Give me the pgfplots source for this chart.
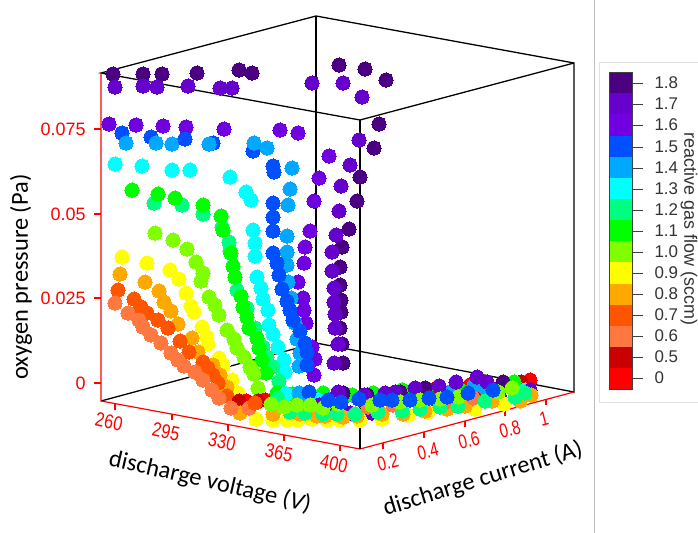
\documentclass[border=0pt]{standalone}
\usepackage{pgfplots}
\pgfplotsset{compat=1.18}
\usepackage{fontspec}
\setmainfont{Liberation Sans}
\newfontfamily\arialfont{Liberation Sans}
\newfontfamily\calfont{Carlito}
\definecolor{c00}{HTML}{FF0000}
\definecolor{c05}{HTML}{C80000}
\definecolor{c06}{HTML}{FF7840}
\definecolor{c07}{HTML}{FF5500}
\definecolor{c08}{HTML}{FFA800}
\definecolor{c09}{HTML}{FFFF00}
\definecolor{c10}{HTML}{80FF00}
\definecolor{c11}{HTML}{00FF00}
\definecolor{c12}{HTML}{00FF80}
\definecolor{c13}{HTML}{00FFFF}
\definecolor{c14}{HTML}{00A8FF}
\definecolor{c15}{HTML}{0050FF}
\definecolor{c16}{HTML}{7000E0}
\definecolor{c17}{HTML}{6600CC}
\definecolor{c18}{HTML}{4B0082}
\pgfplotsset{dot/.style={only marks,mark=*,mark size=7.1pt,color=#1,mark options={draw=none,fill=#1,line width=0pt,solid}},
 fr/.style={black,line width=1.3pt},
 rd/.style={red,line width=1.2pt},
 cell/.style={fill=#1,draw=none}}
\newcommand{\ztl}[2]{\node[anchor=east,text=red,font=\arialfont\fontsize{18}{20}\selectfont] at (axis cs:89,#1) {#2};}
\newcommand{\xtl}[3]{\node[text=red,rotate=-12,xscale=.82,font=\arialfont\fontsize{20}{22}\selectfont] at (axis cs:#1,#2) {#3};}
\newcommand{\ytl}[3]{\node[text=red,rotate=14,xscale=.76,font=\arialfont\fontsize{20}{22}\selectfont] at (axis cs:#1,#2) {#3};}
\newcommand{\cbl}[2]{\node[anchor=west,text=black!80,font=\arialfont\fontsize{17}{20}\selectfont] at (axis cs:651,#1) {#2};}
\begin{document}
\begin{tikzpicture}
\useasboundingbox (0,0) rectangle (698bp,533bp);
\begin{axis}[at={(0,0)},anchor=south west,scale only axis,width=698bp,height=533bp,hide axis,
 xmin=0,xmax=698,ymin=0,ymax=533,y dir=reverse,clip=false]
% frame
\addplot[black!25,line width=.8pt] coordinates {(594,0) (594,533)};
\addplot[black!12,line width=.8pt] coordinates {(698,62) (599,62) (599,402) (698,402)};
\addplot[fr] coordinates {(101,401) (316,343) (574,392) (574,63) (316,16) (101,73) (360,120) (574,63)};
\addplot[fr] coordinates {(316,16) (316,343)};
\addplot[fr] coordinates {(360,120) (360,449)};
\addplot[rd] coordinates {(101,73) (101,401) (360,449) (574,392)};
% z ticks
\addplot[rd] coordinates {(94,129) (101,129)};
\addplot[rd] coordinates {(94,214) (101,214)};
\addplot[rd] coordinates {(94,298) (101,298)};
\addplot[rd] coordinates {(94,383) (101,383)};
% x ticks
\addplot[rd] coordinates {(115,404) (115,410)};
\addplot[rd] coordinates {(172,414) (172,420)};
\addplot[rd] coordinates {(228,425) (228,431)};
\addplot[rd] coordinates {(284,435) (284,441)};
\addplot[rd] coordinates {(340,445) (340,451)};
% y ticks
\addplot[rd] coordinates {(383,443) (383,449)};
\addplot[rd] coordinates {(424,432) (424,438)};
\addplot[rd] coordinates {(465,421) (465,427)};
\addplot[rd] coordinates {(505,410) (505,416)};
\addplot[rd] coordinates {(546,399) (546,405)};
% upper curves
\addplot[dot=c18] coordinates {(113,74)(143,74)(162,74)(197,73)(239,70)(252,73)(339,65)(365,69)(386,80)(379,124)(374,148)(360,177)(357,201)(349,229)(342,247)(340,267)(340,285)(341,300)(341,312)(340,328)(342,344)(343,363)};
\addplot[dot=c17] coordinates {(115,87)(143,86)(157,87)(188,86)(220,88)(232,88)(312,83)(343,83)(362,97)(359,140)(350,165)(341,186)(339,211)(336,235)(332,252)(332,271)(334,288)(334,302)(335,314)(335,328)(338,344)(334,363)};
\addplot[dot=c16] coordinates {(109,124)(136,125)(163,126)(186,127)(224,129)(280,130)(298,133)(329,156)(319,178)(314,201)(310,231)(305,247)(304,263)(298,282)(303,298)(304,310)(306,323)(312,347)(315,359)(314,375)};
\addplot[dot=c15] coordinates {(122,133)(151,137)(185,139)(213,143)(253,151)};
\addplot[dot=c14] coordinates {(126,143)(156,143)(172,144)(209,144)(254,143)(267,148)(292,168)(290,189)(288,205)(287,236)(287,252)(287,265)(288,282)(291,298)(295,323)(297,339)(300,353)(299,366)};
\addplot[dot=c15] coordinates {(185,139)(273,166)(274,172)(273,203)(273,217)(273,231)(273,253)(277,263)(279,275)(282,289)(287,301)(290,310)(293,320)(300,331)(305,343)(307,352)(307,365)};
\addplot[dot=c13] coordinates {(115,164)(142,166)(172,170)(190,170)(230,177)(246,192)(251,200)(253,230)(255,243)(255,256)(257,277)(261,288)(263,299)(268,310)(269,325)(273,334)(278,347)(284,360)(285,372)};
\addplot[dot=c12] coordinates {(154,203)(182,205)(203,214)(222,227)(229,242)(230,251)(237,290)(247,308)(255,328)(263,347)(267,357)(273,367)(279,381)};
\addplot[dot=c11] coordinates {(132,190)(158,194)(175,198)(203,205)(221,216)(223,230)(231,253)(233,266)(235,277)(241,296)(243,307)(247,317)(249,328)(257,338)(259,348)(262,360)(266,373)};
\addplot[dot=c10] coordinates {(155,233)(173,240)(187,249)(196,262)(203,273)(201,281)(209,297)(215,305)(219,315)(227,330)(234,339)(237,348)(244,357)(250,367)(254,374)(258,388)};
\addplot[dot=c09] coordinates {(122,257)(147,263)(170,270)(179,279)(186,293)(191,306)(194,312)(202,327)(207,337)(208,344)(219,358)(223,365)(232,380)(238,393)};
\addplot[dot=c08] coordinates {(120,274)(145,282)(159,291)(164,302)(171,311)(178,324)(192,338)(198,352)(213,365)(220,375)(227,387)};
\addplot[dot=c07] coordinates {(118,290)(134,299)(141,307)(147,313)(158,320)(168,328)(180,341)(189,352)(203,362)(208,368)(213,375)(218,383)(227,396)};
\addplot[dot=c06] coordinates {(115,303)(128,313)(139,320)(143,327)(151,335)(161,343)(171,353)(178,360)(184,366)(195,372)(203,380)(212,390)(219,398)};
% bottom band, back to front
\addplot[dot=c00] coordinates {(246,401)(265,400)(432,390)(405,392)(530,380)(470,385)};
\addplot[dot=c05] coordinates {(239,401)(258,401)(521,382)(480,388)};
\addplot[dot=c11] coordinates {(277,393)(292,394)(323,393)(352,395)(373,393)(402,390)(425,390)(460,390)(514,382)};
\addplot[dot=c13] coordinates {(286,394)(318,400)(490,392)(525,390)};
\addplot[dot=c14] coordinates {(299,393)(303,402)(474,385)(485,388)(450,392)};
\addplot[dot=c15] coordinates {(309,392)};
\addplot[dot=c18] coordinates {(343,393)(367,395)(503,382)(400,392)(425,388)};
\addplot[dot=c17] coordinates {(338,392)(364,395)(385,393)(395,392)(415,388)(439,386)(456,382)(477,377)(487,382)};
\addplot[dot=c17] coordinates {(319,405)(334,410)(350,413)(372,413)(427,407)(500,398)(530,390)};
\addplot[dot=c09] coordinates {(256,419)(273,420)(287,420)(298,420)(312,419)(327,420)(340,420)(360,420)(382,419)(408,415)(428,412)(475,409)(504,404)};
\addplot[dot=c08] coordinates {(240,413)(273,414)(300,414)(317,416)(325,416)(343,417)(357,416)(382,414)(403,414)(425,411)(447,409)(465,406)(492,401)(520,401)(531,395)};
\addplot[dot=c06] coordinates {(231,408)(249,408)(368,407)(393,405)(473,398)(445,402)};
\addplot[dot=c07] coordinates {(255,403)};
\addplot[dot=c12] coordinates {(278,398)(290,412)(305,413)(323,414)(337,414)(355,414)(378,412)(402,411)(420,409)(440,407)(458,406)(485,401)(515,397)(525,393)};
\addplot[dot=c10] coordinates {(271,404)(284,407)(297,405)(310,405)(323,408)(338,404)(372,405)(400,402)(420,400)(440,399)(458,397)(498,392)(512,388)};
\addplot[dot=c15] coordinates {(328,400)(341,402)(380,400)(392,400)(410,400)(429,398)(447,397)(468,393)(493,390)};
\addplot[dot=c15] coordinates {(359,399)};
\addplot[fr] coordinates {(360,385) (360,449)};
% colour bar
\addplot[cell=c00] coordinates {(609,368)(632,368)(632,389)(609,389)} --cycle;
\addplot[cell=c05] coordinates {(609,347)(632,347)(632,368)(609,368)} --cycle;
\addplot[cell=c06] coordinates {(609,326)(632,326)(632,347)(609,347)} --cycle;
\addplot[cell=c07] coordinates {(609,305)(632,305)(632,326)(609,326)} --cycle;
\addplot[cell=c08] coordinates {(609,284)(632,284)(632,305)(609,305)} --cycle;
\addplot[cell=c09] coordinates {(609,262)(632,262)(632,284)(609,284)} --cycle;
\addplot[cell=c10] coordinates {(609,241)(632,241)(632,262)(609,262)} --cycle;
\addplot[cell=c11] coordinates {(609,220)(632,220)(632,241)(609,241)} --cycle;
\addplot[cell=c12] coordinates {(609,199)(632,199)(632,220)(609,220)} --cycle;
\addplot[cell=c13] coordinates {(609,178)(632,178)(632,199)(609,199)} --cycle;
\addplot[cell=c14] coordinates {(609,157)(632,157)(632,178)(609,178)} --cycle;
\addplot[cell=c15] coordinates {(609,136)(632,136)(632,157)(609,157)} --cycle;
\addplot[cell=c16] coordinates {(609,114)(632,114)(632,136)(609,136)} --cycle;
\addplot[cell=c17] coordinates {(609,93)(632,93)(632,114)(609,114)} --cycle;
\addplot[cell=c18] coordinates {(609,72)(632,72)(632,93)(609,93)} --cycle;
\addplot[black!75,line width=.8pt] coordinates {(609,72)(632,72)(632,389)(609,389)(609,72)};
\addplot[black!75,line width=.8pt] coordinates {(632,378)(643,378)};
\addplot[black!75,line width=.8pt] coordinates {(632,357)(643,357)};
\addplot[black!75,line width=.8pt] coordinates {(632,336)(643,336)};
\addplot[black!75,line width=.8pt] coordinates {(632,315)(643,315)};
\addplot[black!75,line width=.8pt] coordinates {(632,294)(643,294)};
\addplot[black!75,line width=.8pt] coordinates {(632,273)(643,273)};
\addplot[black!75,line width=.8pt] coordinates {(632,252)(643,252)};
\addplot[black!75,line width=.8pt] coordinates {(632,231)(643,231)};
\addplot[black!75,line width=.8pt] coordinates {(632,210)(643,210)};
\addplot[black!75,line width=.8pt] coordinates {(632,189)(643,189)};
\addplot[black!75,line width=.8pt] coordinates {(632,168)(643,168)};
\addplot[black!75,line width=.8pt] coordinates {(632,147)(643,147)};
\addplot[black!75,line width=.8pt] coordinates {(632,125)(643,125)};
\addplot[black!75,line width=.8pt] coordinates {(632,104)(643,104)};
\addplot[black!75,line width=.8pt] coordinates {(632,83)(643,83)};
\cbl{378}{0}\cbl{357}{0.5}\cbl{336}{0.6}\cbl{315}{0.7}\cbl{294}{0.8}\cbl{273}{0.9}\cbl{252}{1.0}\cbl{231}{1.1}\cbl{210}{1.2}\cbl{189}{1.3}\cbl{168}{1.4}\cbl{147}{1.5}\cbl{125}{1.6}\cbl{104}{1.7}\cbl{83}{1.8}
\node[rotate=-90,text=black!80,font=\arialfont\fontsize{18}{20}\selectfont] at (axis cs:689,229) {reactive gas flow (sccm)};
% tick labels
\ztl{129}{0.075}\ztl{214}{0.05}\ztl{298}{0.025}\ztl{383}{0}
\xtl{109}{422}{260}\xtl{166}{432}{295}\xtl{222}{442}{330}\xtl{279}{453}{365}\xtl{334}{464}{400}
\ytl{388}{462}{0.2}\ytl{428}{451}{0.4}\ytl{469}{440}{0.6}\ytl{510}{429}{0.8}\ytl{544}{419}{1}
% axis titles
\node[rotate=90,font=\calfont\fontsize{24.5}{26}\selectfont] at (axis cs:21,277) {oxygen pressure (Pa)};
\node[rotate=-13,font=\calfont\fontsize{24.5}{26}\selectfont] at (axis cs:210,482) {discharge voltage ({\itshape V})};
\node[rotate=17,font=\calfont\fontsize{24.5}{26}\selectfont] at (axis cs:483,479) {discharge current (A)};
\end{axis}
\end{tikzpicture}
\end{document}
